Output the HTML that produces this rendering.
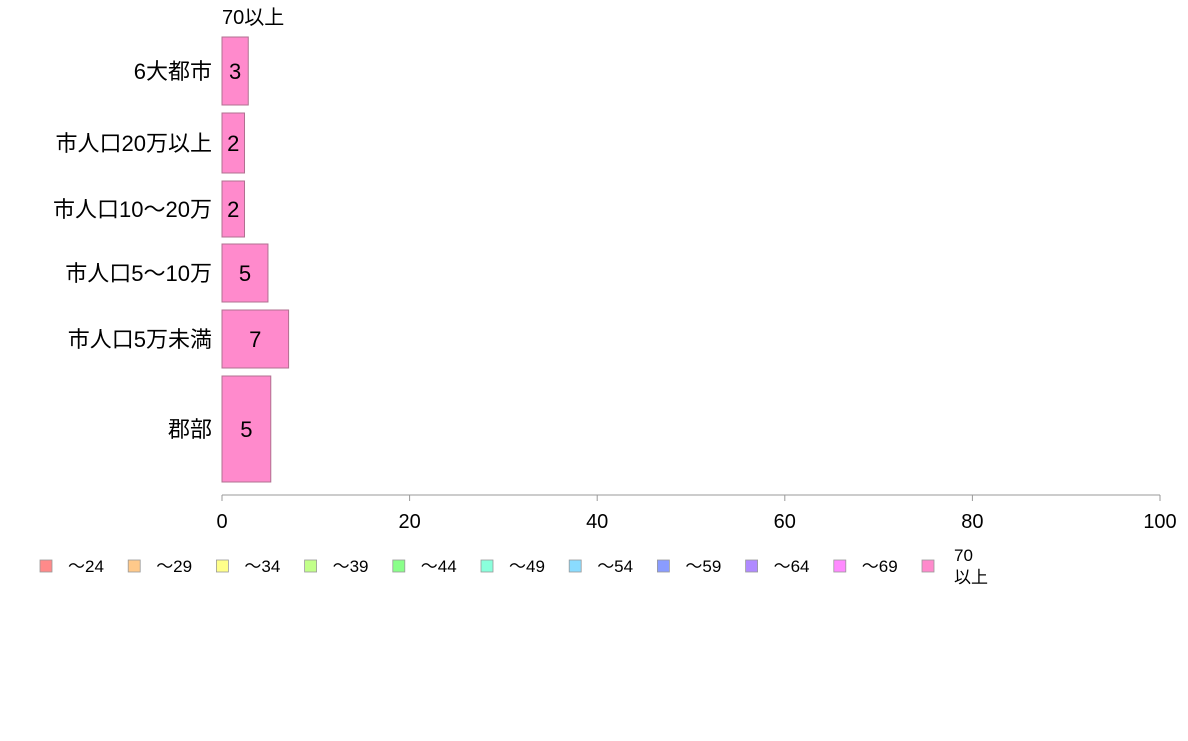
<!DOCTYPE html>
<html><head><meta charset="utf-8"><style>
body{margin:0;background:#fff;font-family:"Liberation Sans","Noto Sans CJK JP",sans-serif}
svg text{font-family:"Liberation Sans","Noto Sans CJK JP",sans-serif}
</style></head><body>
<svg id="c" width="1188" height="736"></svg>
<script>
const categories=["6大都市","市人口20万以上","市人口10～20万","市人口5～10万","市人口5万未満","郡部"];
const values70=[2.8,2.4,2.4,4.9,7.1,5.2];
const labels70=["3","2","2","5","7","5"];
const bandTops=[37,113,181,244,310,376];
const bandBottoms=[105,173,237,302,368,482];
const xTicks=[0,20,40,60,80,100];
const legendLabels=["～24","～29","～34","～39","～44","～49","～54","～59","～64","～69","70"];
const legendColors=["#ff8a8a","#ffc98a","#ffff8a","#c2ff8a","#8aff8a","#8affdc","#8adcff","#8a9cff","#b08aff","#ff8aff","#ff8acc"];
const svg=document.getElementById('c');const NS="http://www.w3.org/2000/svg";
function mk(t,a,p){const e=document.createElementNS(NS,t);for(const k in a)e.setAttribute(k,a[k]);(p||svg).appendChild(e);return e;}
const x=v=>222+v*(1160-222)/100;
let t=mk('text',{x:222,y:24,'font-size':20,fill:'#000'});t.textContent="70以上";

categories.forEach((c,i)=>{
 const y0=bandTops[i],y1=bandBottoms[i],ym=(y0+y1)/2;
 let l=mk('text',{x:212,y:ym+8,'text-anchor':'end','font-size':22,fill:'#000'});l.textContent=c;
 
 let r=mk('rect',{x:x(0),y:y0,width:x(values70[i])-x(0),height:y1-y0,fill:'#ff8acc',stroke:'#b07090','stroke-width':1});
 
 let v=mk('text',{x:(x(0)+x(values70[i]))/2,y:ym+8,'text-anchor':'middle','font-size':22,fill:'#000'});v.textContent=labels70[i];
 
});
let ax=mk('line',{x1:x(0),x2:x(100),y1:495,y2:495,stroke:'#999','stroke-width':1});

xTicks.forEach(v=>{
 let tk=mk('line',{x1:x(v),x2:x(v),y1:495,y2:501,stroke:'#999'});
 
 let tl=mk('text',{x:x(v),y:528,'text-anchor':'middle','font-size':20,fill:'#000'});tl.textContent=v;
 
});
legendLabels.forEach((s,i)=>{
 const lx=40+i*88.2;
 let g=mk('g',{});
 mk('rect',{x:lx,y:560,width:12,height:12,fill:legendColors[i],stroke:'#999','stroke-width':0.8},g);
 if(i<10){let tt=mk('text',{x:lx+28,y:572,'font-size':17,fill:'#000'},g);tt.textContent=s;}
 else{let a=mk('text',{x:lx+32,y:561,'font-size':17,fill:'#000'},g);a.textContent="70";
  let b=mk('text',{x:lx+32,y:583,'font-size':17,fill:'#000'},g);b.textContent="以上";}
});
</script>
</body></html>
